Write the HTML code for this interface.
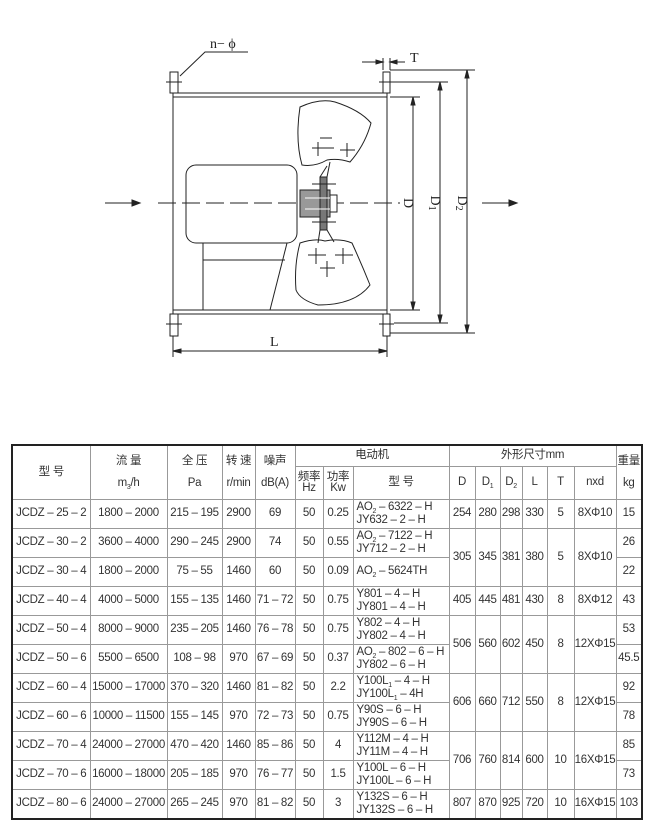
<!DOCTYPE html>
<html><head><meta charset="utf-8"><style>
body{margin:0;width:650px;height:835px;background:#fff;position:relative;overflow:hidden;font-family:"Liberation Sans","Noto Sans CJK SC",sans-serif;color:#333}
svg{position:absolute;left:0;top:0}
table{position:absolute;left:11px;top:444px;border-collapse:collapse;table-layout:fixed;border:2px solid #222}
td{border:1px solid #999;text-align:center;font-size:11.5px;padding:0;line-height:11px;white-space:nowrap;overflow:hidden;letter-spacing:-0.3px}
td.m{text-align:left;padding-left:3px;line-height:13px}
tr.r td{height:28px;max-height:28px}
tr.g td{border-top:1.5px solid #556}
s{text-decoration:none;font-size:7px;position:relative;top:3px;line-height:0}
</style></head><body>
<svg width="650" height="440" viewBox="0 0 650 440" fill="none" stroke="#222" stroke-width="1">
<line x1="105" y1="203" x2="138" y2="203"/><polygon points="140,203 132,200 132,206" fill="#222"/>
<line x1="482" y1="203" x2="514" y2="203"/><polygon points="517,203 509,200 509,206" fill="#222"/>
<line x1="158" y1="203" x2="400" y2="203" stroke-dasharray="18,6"/>
<rect x="173" y="93" width="214" height="4"/><rect x="173" y="310" width="214" height="4"/>
<line x1="173" y1="97" x2="173" y2="310"/><line x1="387" y1="97" x2="387" y2="310"/>
<rect x="170" y="72" width="8" height="21"/><rect x="383" y="72" width="7" height="21"/>
<rect x="170" y="314" width="8" height="22"/><rect x="383" y="314" width="7" height="22"/>
<line x1="166" y1="82" x2="182" y2="82"/><line x1="379" y1="82" x2="394" y2="82"/>
<line x1="166" y1="324" x2="182" y2="324"/><line x1="379" y1="324" x2="394" y2="324"/>
<rect x="186" y="165" width="111" height="78" rx="10"/>
<line x1="203" y1="243" x2="203" y2="310"/><line x1="203" y1="260" x2="285" y2="260"/>
<line x1="287" y1="243" x2="270" y2="310"/>
<rect x="300" y="190" width="30" height="27" fill="#999"/>
<rect x="320" y="177" width="7" height="53" fill="#777"/>
<rect x="330" y="195" width="7" height="17" fill="#fff"/>
<line x1="305" y1="198" x2="330" y2="198" stroke="#fff"/><line x1="305" y1="209" x2="330" y2="209" stroke="#fff"/>
<line x1="320" y1="177" x2="327" y2="166"/><line x1="327" y1="177" x2="330" y2="162"/>
<line x1="320" y1="230" x2="318" y2="243"/><line x1="327" y1="230" x2="334" y2="242"/>
<line x1="312" y1="184" x2="336" y2="184"/><line x1="312" y1="222" x2="336" y2="222"/>
<path d="M300,107 Q320,98 335,102 Q360,110 371,123 Q365,145 350,162 Q338,158 327,160 Q315,167 302,165 Q295,140 300,107 Z"/>
<path d="M300,243 Q315,238 325,241 Q340,238 352,243 Q362,265 370,285 Q355,305 318,305 Q300,300 296,290 Q294,265 300,243 Z"/>
<path d="M312,148 h22 M318,142 v14 M340,150 h15 M347,143 v14 M320,138 h12"/>
<path d="M308,255 h18 M316,248 v16 M335,255 h18 M343,248 v16 M320,268 h15 M327,261 v16"/>
<line x1="390" y1="97" x2="420" y2="97"/><line x1="390" y1="310" x2="420" y2="310"/>
<line x1="394" y1="82" x2="448" y2="82"/><line x1="394" y1="323" x2="448" y2="323"/>
<line x1="390" y1="70" x2="475" y2="70"/><line x1="390" y1="333" x2="475" y2="333"/>
<line x1="413" y1="97" x2="413" y2="310"/><polygon points="413,97 411,105 415,105" fill="#222"/><polygon points="413,310 411,302 415,302" fill="#222"/>
<line x1="440" y1="82" x2="440" y2="323"/><polygon points="440,82 438,90 442,90" fill="#222"/><polygon points="440,323 438,315 442,315" fill="#222"/>
<line x1="467" y1="70" x2="467" y2="333"/><polygon points="467,70 465,78 469,78" fill="#222"/><polygon points="467,333 465,325 469,325" fill="#222"/>
<line x1="173" y1="336" x2="173" y2="357"/><line x1="387" y1="336" x2="387" y2="357"/>
<line x1="173" y1="351" x2="387" y2="351"/><polygon points="173,351 181,349 181,353" fill="#222"/><polygon points="387,351 379,349 379,353" fill="#222"/>
<line x1="383" y1="58" x2="383" y2="70"/><line x1="390" y1="58" x2="390" y2="70"/>
<line x1="362" y1="62" x2="383" y2="62"/><polygon points="383,62 376,60 376,64" fill="#222"/>
<line x1="390" y1="62" x2="405" y2="62"/><polygon points="390,62 397,60 397,64" fill="#222"/>
<polyline points="180,76 205,52 248,52"/>
<g fill="#222" stroke="none" font-family="Liberation Serif,serif" font-size="14">
<text x="210" y="48">n− ϕ</text>
<text x="410" y="62">T</text>
<text x="270" y="346">L</text>
<text transform="translate(404,203) rotate(90)" text-anchor="middle">D</text>
<text transform="translate(431,203) rotate(90)" text-anchor="middle">D<tspan font-size="10" dy="2">1</tspan></text>
<text transform="translate(458,203) rotate(90)" text-anchor="middle">D<tspan font-size="10" dy="2">2</tspan></text>
</g>
</svg>
<table>
<colgroup><col style="width:78px"><col style="width:77px"><col style="width:55px"><col style="width:33px"><col style="width:40px"><col style="width:28px"><col style="width:30px"><col style="width:96px"><col style="width:26px"><col style="width:25px"><col style="width:22px"><col style="width:25px"><col style="width:27px"><col style="width:42px"><col style="width:26px"></colgroup>
<tr style="height:21px"><td rowspan="2">型 号</td><td rowspan="2">流 量<br><br>m<s>3</s>/h</td><td rowspan="2">全 压<br><br>Pa</td><td rowspan="2">转 速<br><br>r/min</td><td rowspan="2">噪声<br><br>dB(A)</td><td colspan="3">电动机</td><td colspan="6">外形尺寸mm</td><td rowspan="2">重量<br><br>kg</td></tr>
<tr style="height:33px"><td>频率<br>Hz</td><td>功率<br>Kw</td><td>型 号</td><td>D</td><td>D<s>1</s></td><td>D<s>2</s></td><td>L</td><td>T</td><td>nxd</td></tr>
<tr class="r"><td>JCDZ – 25 – 2</td><td>1800 – 2000</td><td>215 – 195</td><td>2900</td><td>69</td><td>50</td><td>0.25</td><td class="m">AO<s>2</s> – 6322 – H<br>JY632 – 2 – H</td><td>254</td><td>280</td><td>298</td><td>330</td><td>5</td><td>8XΦ10</td><td>15</td></tr>
<tr class="r"><td>JCDZ – 30 – 2</td><td>3600 – 4000</td><td>290 – 245</td><td>2900</td><td>74</td><td>50</td><td>0.55</td><td class="m">AO<s>2</s> – 7122 – H<br>JY712 – 2 – H</td><td rowspan="2">305</td><td rowspan="2">345</td><td rowspan="2">381</td><td rowspan="2">380</td><td rowspan="2">5</td><td rowspan="2">8XΦ10</td><td>26</td></tr>
<tr class="r"><td>JCDZ – 30 – 4</td><td>1800 – 2000</td><td>75 – 55</td><td>1460</td><td>60</td><td>50</td><td>0.09</td><td class="m">AO<s>2</s> – 5624TH</td><td>22</td></tr>
<tr class="r g"><td>JCDZ – 40 – 4</td><td>4000 – 5000</td><td>155 – 135</td><td>1460</td><td>71 – 72</td><td>50</td><td>0.75</td><td class="m">Y801 – 4 – H<br>JY801 – 4 – H</td><td>405</td><td>445</td><td>481</td><td>430</td><td>8</td><td>8XΦ12</td><td>43</td></tr>
<tr class="r"><td>JCDZ – 50 – 4</td><td>8000 – 9000</td><td>235 – 205</td><td>1460</td><td>76 – 78</td><td>50</td><td>0.75</td><td class="m">Y802 – 4 – H<br>JY802 – 4 – H</td><td rowspan="2">506</td><td rowspan="2">560</td><td rowspan="2">602</td><td rowspan="2">450</td><td rowspan="2">8</td><td rowspan="2">12XΦ15</td><td>53</td></tr>
<tr class="r"><td>JCDZ – 50 – 6</td><td>5500 – 6500</td><td>108 – 98</td><td>970</td><td>67 – 69</td><td>50</td><td>0.37</td><td class="m">AO<s>2</s> – 802 – 6 – H<br>JY802 – 6 – H</td><td>45.5</td></tr>
<tr class="r g"><td>JCDZ – 60 – 4</td><td>15000 – 17000</td><td>370 – 320</td><td>1460</td><td>81 – 82</td><td>50</td><td>2.2</td><td class="m">Y100L<s>1</s> – 4 – H<br>JY100L<s>1</s> – 4H</td><td rowspan="2">606</td><td rowspan="2">660</td><td rowspan="2">712</td><td rowspan="2">550</td><td rowspan="2">8</td><td rowspan="2">12XΦ15</td><td>92</td></tr>
<tr class="r"><td>JCDZ – 60 – 6</td><td>10000 – 11500</td><td>155 – 145</td><td>970</td><td>72 – 73</td><td>50</td><td>0.75</td><td class="m">Y90S – 6 – H<br>JY90S – 6 – H</td><td>78</td></tr>
<tr class="r"><td>JCDZ – 70 – 4</td><td>24000 – 27000</td><td>470 – 420</td><td>1460</td><td>85 – 86</td><td>50</td><td>4</td><td class="m">Y112M – 4 – H<br>JY11M – 4 – H</td><td rowspan="2">706</td><td rowspan="2">760</td><td rowspan="2">814</td><td rowspan="2">600</td><td rowspan="2">10</td><td rowspan="2">16XΦ15</td><td>85</td></tr>
<tr class="r"><td>JCDZ – 70 – 6</td><td>16000 – 18000</td><td>205 – 185</td><td>970</td><td>76 – 77</td><td>50</td><td>1.5</td><td class="m">Y100L – 6 – H<br>JY100L – 6 – H</td><td>73</td></tr>
<tr class="r g"><td>JCDZ – 80 – 6</td><td>24000 – 27000</td><td>265 – 245</td><td>970</td><td>81 – 82</td><td>50</td><td>3</td><td class="m">Y132S – 6 – H<br>JY132S – 6 – H</td><td>807</td><td>870</td><td>925</td><td>720</td><td>10</td><td>16XΦ15</td><td>103</td></tr>
</table>
</body></html>
